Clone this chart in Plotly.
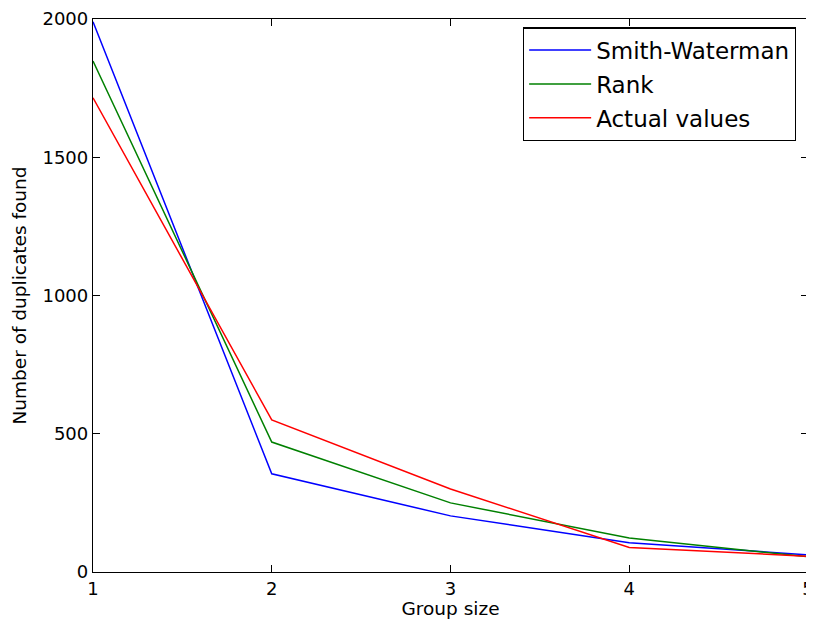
import plotly.graph_objects as go

group_size = [1, 2, 3, 4, 5]
smith_waterman = [1990, 355, 203, 106, 62]
rank = [1848, 470, 250, 123, 55]
actual_values = [1715, 550, 300, 89, 57]

fig = go.Figure()
for i, (name, vals, col) in enumerate([("Smith-Waterman", smith_waterman, "#0000ff"),
                                       ("Rank", rank, "#008000"),
                                       ("Actual values", actual_values, "#ff0000")]):
    fig.add_trace(go.Scatter(x=group_size, y=vals, mode="lines", name=name,
                             legendgroup=f"g{i}",
                             line=dict(color=col, width=1.5)))

axis_common = dict(showgrid=False, zeroline=False, showline=True, linecolor="black",
                   linewidth=1.3, mirror="ticks", ticks="inside", ticklen=7,
                   tickcolor="black", tickfont=dict(size=18, color="black"),
                   automargin=False, ticklabeloverflow="allow")
# page body has an 8px margin, so the figure is offset by 8px
fig.update_layout(
    width=806, height=611,
    margin=dict(l=85, r=6, t=11, b=47),
    paper_bgcolor="white", plot_bgcolor="white",
    font=dict(family="DejaVu Sans", size=18, color="black"),
    xaxis=dict(range=[1, 5], tickvals=[1, 2, 3, 4, 5],
               title=dict(text="Group size", font=dict(size=18.5), standoff=9), **axis_common),
    yaxis=dict(range=[0, 2000], tickvals=[0, 500, 1000, 1500, 2000],
               title=dict(text="Number of duplicates found", font=dict(size=18.5), standoff=10),
               **axis_common),
    legend=dict(x=0.983, y=0.985, xanchor="right", yanchor="top",
                bordercolor="black", borderwidth=1.3, bgcolor="white",
                font=dict(size=23), itemwidth=62, tracegroupgap=1),
)
fig.write_html("out.html")
